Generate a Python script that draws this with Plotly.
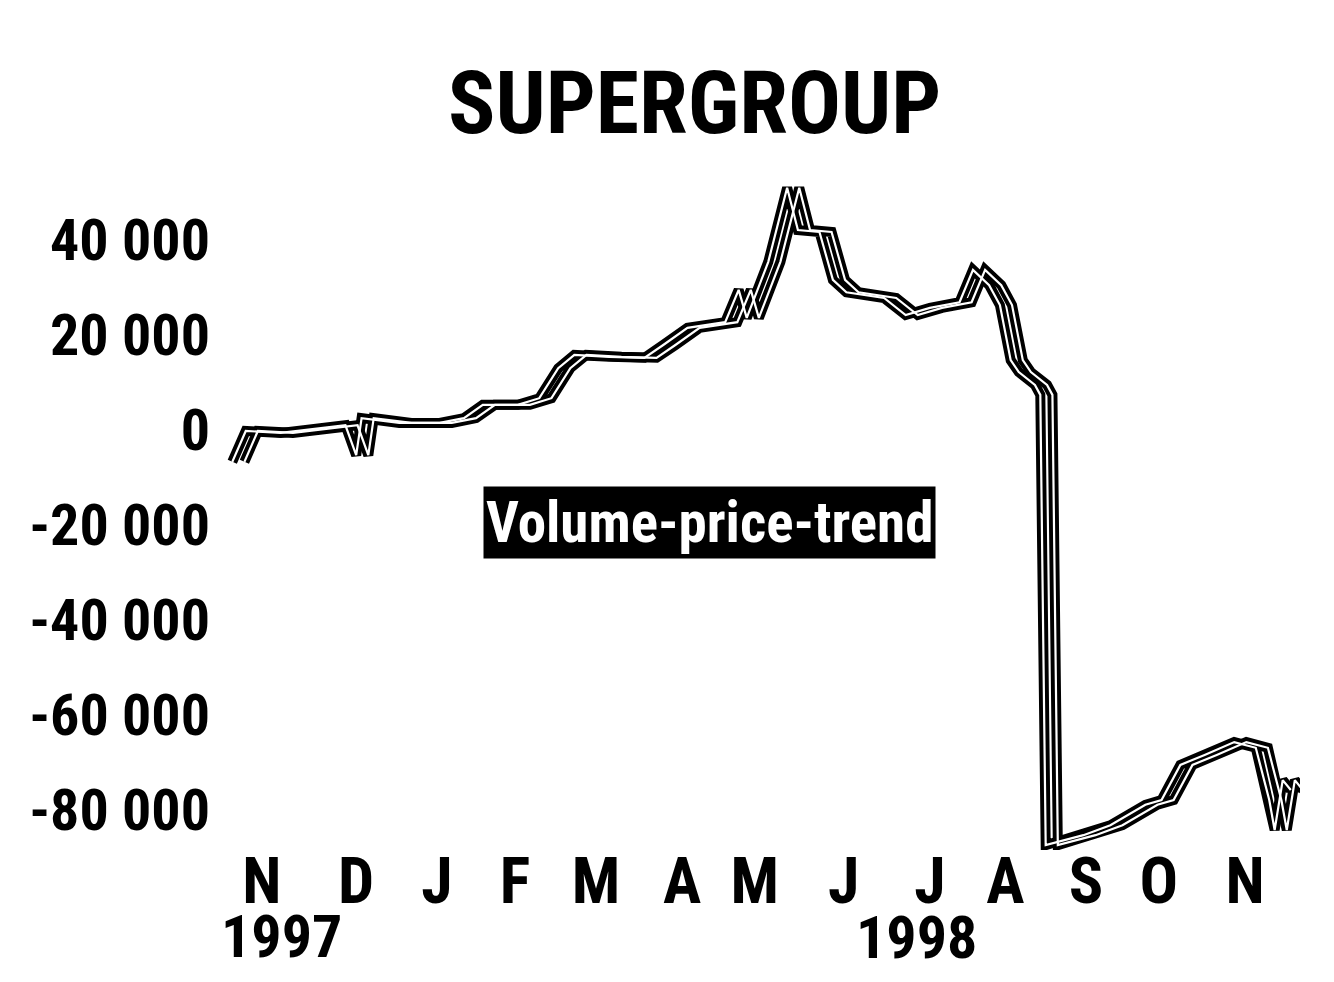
import plotly.graph_objects as go
import pandas as pd

# ---- data ----
dates = [
    "1997-11-04", "1997-11-09", "1997-11-22", "1997-12-07", "1997-12-16", "1997-12-20",
    "1997-12-22", "1998-01-05", "1998-01-20", "1998-01-29", "1998-02-05", "1998-02-18",
    "1998-02-26", "1998-03-05", "1998-03-11", "1998-03-24", "1998-04-06", "1998-04-13",
    "1998-04-22", "1998-05-06", "1998-05-11", "1998-05-14", "1998-05-22", "1998-05-29",
    "1998-06-02", "1998-06-10", "1998-06-15", "1998-06-20", "1998-06-28", "1998-07-04",
    "1998-07-12", "1998-07-21", "1998-08-01", "1998-08-06", "1998-08-12", "1998-08-16",
    "1998-08-20", "1998-08-23", "1998-08-29", "1998-08-31", "1998-09-02", "1998-09-09",
    "1998-09-16", "1998-09-26", "1998-10-09", "1998-10-15", "1998-10-22", "1998-10-31",
    "1998-11-11", "1998-11-19", "1998-11-24", "1998-11-26", "1998-11-29", "1998-12-02",
]
vpt = [
    -6700, -200, -600, 400, 1000, -5300,
    2500, 1500, 1500, 2500, 5300, 5300,
    6700, 13000, 15800, 15400, 15200, 17900,
    21500, 22700, 29500, 23600, 35400, 51000,
    42100, 41700, 31600, 29000, 28400, 27800,
    24200, 25700, 26900, 33700, 30500, 26300,
    14700, 12200, 9500, 7400, -87400, -86300,
    -85300, -83200, -78900, -77900, -70500, -68400,
    -65700, -66900, -77900, -84200, -73700, -75800,
]
# month-letter positions as printed in the reference
month_ticks = ["1997-11-15", "1997-12-20", "1998-01-19", "1998-02-17", "1998-03-19",
               "1998-04-20", "1998-05-17", "1998-06-19", "1998-07-21", "1998-08-18",
               "1998-09-17", "1998-10-14", "1998-11-15"]
month_labels = ["N", "D", "J", "F", "M", "A", "M", "J", "J", "A", "S", "O", "N"]
year_labels = ["1997", "1998"]
year_tick_index = [0, 8]          # month tick each year label sits under
y_ticks = [40000, 20000, 0, -20000, -40000, -60000, -80000]
y_labels = ["40 000", "20 000", "0", "-20 000", "-40 000", "-60 000", "-80 000"]

title_text = "SUPERGROUP"
label_text = "Volume-price-trend"

FONT = "Roboto Condensed, Open Sans, sans-serif"

x = pd.to_datetime(pd.Series(dates))
x_shadow = x + pd.Timedelta(days=4.5)

fig = go.Figure()
for xs in (x, x_shadow):
    fig.add_trace(go.Scatter(x=xs, y=vpt, mode="lines",
                             line=dict(color="black", width=10),
                             hoverinfo="skip", showlegend=False))
for xs in (x, x_shadow):
    fig.add_trace(go.Scatter(x=xs, y=vpt, mode="lines",
                             line=dict(color="white", width=2.2),
                             hoverinfo="skip", showlegend=False))

fig.add_annotation(
    x=0.451, y=0.481, xref="paper", yref="paper",
    text=label_text, showarrow=False,
    font=dict(family=FONT, size=57, color="white", weight="bold"),
    bgcolor="black", borderpad=2,
)

year_shift = [(20, -0.1265), (-13, -0.1294)]
for lab, idx, (dx, yp) in zip(year_labels, year_tick_index, year_shift):
    fig.add_annotation(
        x=month_ticks[idx], y=yp, xref="x", yref="paper", xshift=dx,
        text=lab, showarrow=False, yanchor="middle",
        font=dict(family=FONT, size=60, color="black", weight="bold"),
    )

W, H = 1318, 966   # page adds an 8px body margin
fig.update_layout(
    width=W, height=H,
    margin=dict(l=217, r=26, t=162, b=124),
    paper_bgcolor="white", plot_bgcolor="white",
    title=dict(text=title_text, x=0.521, xref="container", xanchor="center",
               y=0.902, yref="container", yanchor="middle",
               font=dict(family=FONT, size=88, color="black", weight="bold")),
    font=dict(family=FONT, color="black"),
)
fig.update_xaxes(
    type="date", range=["1997-11-01 07:00", "1998-12-05 10:00"],
    tickmode="array", tickvals=month_ticks, ticktext=month_labels,
    showgrid=False, zeroline=False, showline=False, ticks="",
    tickangle=0, automargin=False, anchor="free", position=0.018,
    tickfont=dict(family=FONT, size=64, color="black", weight="bold"),
    ticklabelstandoff=0,
)
fig.update_yaxes(
    range=[-88420, 54740],
    tickmode="array", tickvals=y_ticks, ticktext=y_labels,
    showgrid=False, zeroline=False, showline=False, ticks="",
    automargin=False,
    tickfont=dict(family=FONT, size=58, color="black", weight="bold"),
    ticklabelstandoff=14,
)

fig.write_html("out.html")
